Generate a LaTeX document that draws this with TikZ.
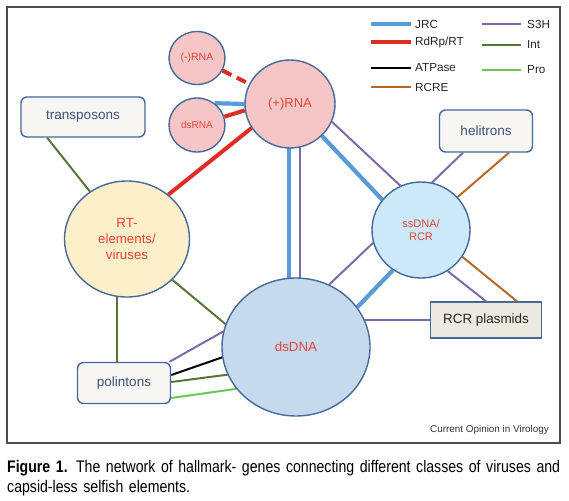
\documentclass[tikz,border=0pt]{standalone}
\usepackage{fontspec}
\setmainfont{Liberation Sans}
\newfontfamily\captionfont{Liberation Sans}[FakeStretch=0.84]
\usetikzlibrary{shapes.geometric,backgrounds}
\definecolor{edgeblue}{HTML}{46699A}
\definecolor{labelred}{HTML}{E8433A}
\definecolor{labelslate}{HTML}{3D5274}
\definecolor{rnapink}{HTML}{F6C6C6}
\definecolor{rtyellow}{HTML}{FDEFC9}
\definecolor{ssblue}{HTML}{CBE9F8}
\definecolor{dsblue}{HTML}{C6DAEE}
\definecolor{boxfill}{HTML}{F7F6F2}
\definecolor{plasmidfill}{HTML}{ECE9E0}
\definecolor{jrcblue}{HTML}{5A9AD6}
\definecolor{rdrpred}{HTML}{DE2C25}
\definecolor{rcrebrown}{HTML}{B56A2A}
\definecolor{s3hpurple}{HTML}{7D6BA8}
\definecolor{intgreen}{HTML}{577638}
\definecolor{progreen}{HTML}{6CC653}
\tikzset{
    every node/.style={align=center,},
    virus/.style={draw=edgeblue,ellipse,line width=1.4pt,text=labelred,inner sep=0pt,},
    element/.style={draw=edgeblue,rectangle,rounded corners=6pt,fill=boxfill,line width=1.4pt,
        text=labelslate,inner sep=0pt,font=\fontsize{13.5}{16}\selectfont,},
    legend/.style={inner sep=0pt,anchor=west,text=black!85,font=\fontsize{11.7}{14}\selectfont,},
    jrc/.style={draw=jrcblue,line width=4.2pt,},
    rdrp/.style={draw=rdrpred,line width=4pt,},
    atpase/.style={draw=black,line width=2pt,},
    rcre/.style={draw=rcrebrown,line width=2pt,},
    s3h/.style={draw=s3hpurple,line width=2pt,},
    intg/.style={draw=intgreen,line width=2pt,},
    pro/.style={draw=progreen,line width=2pt,},
}

\begin{document}
\begin{tikzpicture}[x=1pt,y=-1pt]
        \useasboundingbox (0,0) rectangle (569,500);
        \draw[black!70,line width=1.2pt] (7,7) rectangle (560,443);

        \node[virus,fill=rnapink,minimum width=56pt,minimum height=53pt,font=\fontsize{10.5}{12}\selectfont] (minus_rna) at (197,58) {(-)RNA};
        \node[virus,fill=rnapink,minimum width=56pt,minimum height=54pt,font=\fontsize{10}{12}\selectfont] (ds_rna) at (197,125) {dsRNA};
        \node[virus,fill=rnapink,minimum width=90pt,minimum height=88pt,font=\fontsize{13}{15}\selectfont] (plus_rna) at (290,104) {(+)RNA};

        \node[virus,fill=rtyellow,minimum width=125pt,minimum height=116pt,font=\fontsize{13.3}{16}\selectfont] (rt_elements) at (127,239) {RT-\\elements/\\viruses};
        \node[virus,fill=ssblue,minimum width=98pt,minimum height=96pt,font=\fontsize{11}{13}\selectfont] (ss_dna) at (421,230) {ssDNA/\\RCR};
        \node[virus,fill=dsblue,minimum width=148pt,minimum height=138pt,font=\fontsize{13.3}{15}\selectfont] (ds_dna) at (296,347) {dsDNA};

        \node[element,minimum width=124pt,minimum height=40pt] (transposons) at (83,117) {transposons};
        \node[element,minimum width=93pt,minimum height=42pt] (helitrons) at (486,131) {helitrons};
        \node[element,minimum width=93pt,minimum height=41pt] (polintons) at (124,383) {polintons};
        \node[draw=edgeblue,fill=plasmidfill,line width=1.4pt,inner sep=0pt,minimum width=111pt,minimum height=36pt,
            text=black!85,font=\fontsize{13.4}{15}\selectfont] (rcr_plasmids) at (486,320) {RCR plasmids};

        \begin{scope}[on background layer]
            \draw[rdrp,dash pattern=on 10pt off 6pt] (minus_rna) -- (plus_rna);
            \draw[jrc] (ds_rna.51) -- (plus_rna.180);
            \draw[rdrp] (ds_rna.17) -- (plus_rna.188);
            \draw[rdrp] (rt_elements.47) -- (plus_rna.212);
            \draw[intg] (transposons.210) -- (rt_elements.128);

            \draw[jrc] ([xshift=-1pt]plus_rna.center) -- ([xshift=-7pt]ds_dna.center);
            \draw[s3h] ([xshift=10pt]plus_rna.center) -- ([xshift=4pt]ds_dna.center);
            \draw[jrc] (plus_rna.315) -- (ss_dna.142);
            \draw[s3h] (plus_rna.337) -- (ss_dna.115);

            \draw[s3h] ([xshift=-23pt]helitrons.south) -- (ss_dna.77);
            \draw[rcre] ([xshift=23pt]helitrons.south) -- (ss_dna.42);
            \draw[s3h] (ss_dna.303) -- (rcr_plasmids.north);
            \draw[rcre] (ss_dna.327) -- ([xshift=31pt]rcr_plasmids.north);
            \draw[s3h] (ss_dna.195) -- (ds_dna.62);
            \draw[jrc] (ss_dna.235) -- (ds_dna.33);
            \draw[s3h] (rcr_plasmids.west) -- (rcr_plasmids.west -| ds_dna.center);

            \draw[intg] (rt_elements.318) -- (ds_dna.162);
            \draw[intg] ([xshift=-7pt]polintons.north) -- ([xshift=-7pt]polintons.north |- rt_elements.center);
            \draw[s3h] (polintons.25) -- (ds_dna.168);
            \draw[atpase] ([yshift=8pt]polintons.east) -- (ds_dna.188);
            \draw[intg] ([yshift=1pt]polintons.east) -- (ds_dna.202);
            \draw[pro] ([yshift=-15pt]polintons.east) -- (ds_dna.215);
        \end{scope}

        \node[legend] (leg_jrc) at (415,24) {JRC};
        \node[legend] (leg_rdrp) at (415,42) {RdRp/RT};
        \node[legend] (leg_atpase) at (415,68) {ATPase};
        \node[legend] (leg_rcre) at (415,87) {RCRE};
        \node[legend] (leg_s3h) at (527,24) {S3H};
        \node[legend] (leg_int) at (527,45) {Int};
        \node[legend] (leg_pro) at (527,70) {Pro};
        \draw[jrc] ([xshift=-44pt]leg_jrc.west) -- ([xshift=-4pt]leg_jrc.west);
        \draw[rdrp] ([xshift=-44pt]leg_rdrp.west) -- ([xshift=-4pt]leg_rdrp.west);
        \draw[atpase] ([xshift=-44pt]leg_atpase.west) -- ([xshift=-4pt]leg_atpase.west);
        \draw[rcre] ([xshift=-44pt]leg_rcre.west) -- ([xshift=-4pt]leg_rcre.west);
        \draw[s3h] ([xshift=-45pt]leg_s3h.west) -- ([xshift=-6pt]leg_s3h.west);
        \draw[intg] ([xshift=-45pt]leg_int.west) -- ([xshift=-6pt]leg_int.west);
        \draw[pro] ([xshift=-45pt]leg_pro.west) -- ([xshift=-6pt]leg_pro.west);

        \node[anchor=east,inner sep=0pt,text=black!80,font=\fontsize{9.9}{12}\selectfont] (source) at (549,430) {Current Opinion in Virology};

        \node[anchor=north west,inner sep=0pt,text width=555pt,align=left,font=\captionfont\fontsize{16.8}{20}\selectfont] (caption) at (7,460)
            {\makebox[555pt][s]{\textbf{Figure 1.} The network of hallmark- genes connecting different classes of viruses and}\\capsid-less selfish elements.};
    \end{tikzpicture}
\end{document}
